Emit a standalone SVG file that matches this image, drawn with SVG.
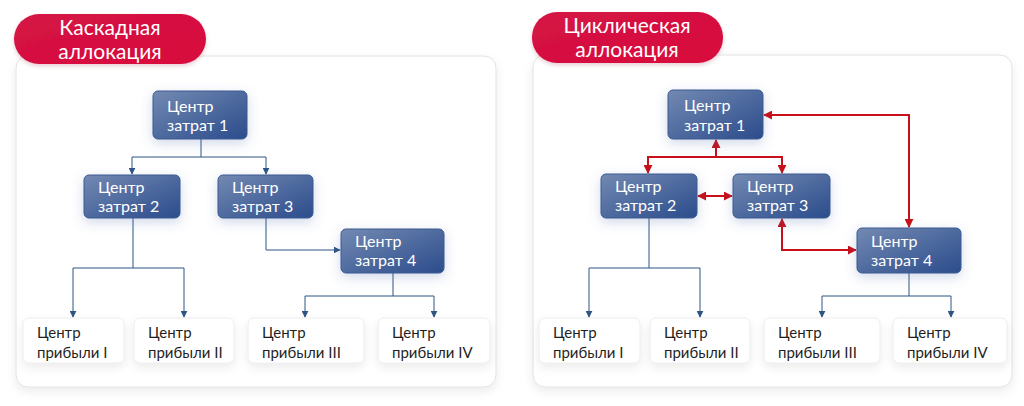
<svg xmlns="http://www.w3.org/2000/svg" width="1024" height="406" viewBox="0 0 1024 406">
<defs>
<linearGradient id="gNode" x1="0" y1="0" x2="1" y2="1">
<stop offset="0" stop-color="#7389b2"/>
<stop offset="1" stop-color="#2b4c8c"/>
</linearGradient>
<linearGradient id="gPill" x1="0" y1="0" x2="1" y2="1">
<stop offset="0" stop-color="#d41445"/>
<stop offset="1" stop-color="#d80c3c"/>
</linearGradient>
<filter id="fPanel" x="-10%" y="-10%" width="120%" height="125%">
<feDropShadow dx="0" dy="4" stdDeviation="5" flood-color="#000" flood-opacity="0.08"/>
</filter>
<filter id="fNode" x="-30%" y="-40%" width="160%" height="190%">
<feDropShadow dx="0" dy="4" stdDeviation="6" flood-color="#4a6aa8" flood-opacity="0.25"/>
</filter>
<filter id="fLeaf" x="-20%" y="-30%" width="140%" height="170%">
<feDropShadow dx="0" dy="4" stdDeviation="5" flood-color="#000" flood-opacity="0.08"/>
</filter>
<filter id="fPill" x="-10%" y="-20%" width="120%" height="150%">
<feDropShadow dx="0" dy="2" stdDeviation="2" flood-color="#800020" flood-opacity="0.2"/>
</filter>
<marker id="aBlue" viewBox="0 0 10 10" refX="9" refY="5" markerWidth="7" markerHeight="7" orient="auto-start-reverse" markerUnits="userSpaceOnUse">
<path d="M0,0 L10,5 L0,10 z" fill="#2c5585"/>
</marker>
<marker id="aRed" viewBox="0 0 10 10" refX="9" refY="5" markerWidth="9" markerHeight="9" orient="auto-start-reverse" markerUnits="userSpaceOnUse">
<path d="M0,0 L10,5 L0,10 z" fill="#c8101a"/>
</marker>
<style>
.panel{fill:#fff;stroke:#e2e2e2;stroke-width:1;filter:url(#fPanel)}
.pill{fill:url(#gPill);filter:url(#fPill)}
.pillt{font-family:Lato,"Liberation Sans",sans-serif;font-size:21px;fill:#fff;text-anchor:middle}
.node{fill:url(#gNode);stroke:#3b5a92;stroke-width:1;filter:url(#fNode)}
.nt{font-family:Lato,"Liberation Sans",sans-serif;font-size:16px;fill:#fff}
.leaf{fill:#fff;stroke:#ececec;stroke-width:1;filter:url(#fLeaf)}
.lt{font-family:Lato,"Liberation Sans",sans-serif;font-size:15px;fill:#1f1f1f}
.cb{fill:none;stroke:#2c5585;stroke-width:1}
.cr{fill:none;stroke:#c8101a;stroke-width:2}
</style>
</defs>
<rect width="1024" height="406" fill="#fff"/>

<g id="panel-left">
<rect class="panel" x="16" y="56" width="480" height="331" rx="12"/>
</g>
<g id="panel-right">
<rect class="panel" x="533" y="55" width="479" height="332" rx="12"/>
</g>

<g id="title-left">
<rect class="pill" x="14" y="14" width="192" height="50" rx="25"/>
<text class="pillt" x="110" y="35">Каскадная</text>
<text class="pillt" x="110" y="59">аллокация</text>
</g>
<g id="title-right">
<rect class="pill" x="532" y="12" width="191" height="51" rx="25"/>
<text class="pillt" x="627" y="33">Циклическая</text>
<text class="pillt" x="627" y="57">аллокация</text>
</g>

<g id="connectors">
<path class="cb" d="M201,139 V157"/>
<path class="cb" d="M201,157 H132 V174" marker-end="url(#aBlue)"/>
<path class="cb" d="M201,157 H266 V174" marker-end="url(#aBlue)"/>
<path class="cb" d="M133,218 V268"/>
<path class="cb" d="M133,268 H73 V317" marker-end="url(#aBlue)"/>
<path class="cb" d="M133,268 H184 V317" marker-end="url(#aBlue)"/>
<path class="cb" d="M266,218 V250 H340" marker-end="url(#aBlue)"/>
<path class="cb" d="M393,273 V296"/>
<path class="cb" d="M393,296 H305 V317" marker-end="url(#aBlue)"/>
<path class="cb" d="M393,296 H434 V317" marker-end="url(#aBlue)"/>
<path class="cb" d="M649,218 V268"/>
<path class="cb" d="M649,268 H589 V317" marker-end="url(#aBlue)"/>
<path class="cb" d="M649,268 H700 V317" marker-end="url(#aBlue)"/>
<path class="cb" d="M909,273 V296"/>
<path class="cb" d="M909,296 H822 V317" marker-end="url(#aBlue)"/>
<path class="cb" d="M909,296 H951 V317" marker-end="url(#aBlue)"/>
<path class="cr" d="M716,157 V140" marker-end="url(#aRed)"/>
<path class="cr" d="M716,157 H648 V173" marker-end="url(#aRed)"/>
<path class="cr" d="M716,157 H782 V173" marker-end="url(#aRed)"/>
<path class="cr" d="M698,196 H732" marker-start="url(#aRed)" marker-end="url(#aRed)"/>
<path class="cr" d="M782,219 V250 H856" marker-start="url(#aRed)" marker-end="url(#aRed)"/>
<path class="cr" d="M764,115 H909 V227" marker-start="url(#aRed)" marker-end="url(#aRed)"/>
</g>

<g id="L-cost1"><rect class="node" x="153" y="91" width="94" height="48" rx="5"/><text class="nt" x="167" y="112">Центр</text><text class="nt" x="167" y="131">затрат 1</text></g>
<g id="L-cost2"><rect class="node" x="84" y="175" width="96" height="43" rx="5"/><text class="nt" x="98" y="193">Центр</text><text class="nt" x="98" y="212">затрат 2</text></g>
<g id="L-cost3"><rect class="node" x="218" y="175" width="95" height="43" rx="5"/><text class="nt" x="232" y="193">Центр</text><text class="nt" x="232" y="212">затрат 3</text></g>
<g id="L-cost4"><rect class="node" x="341" y="229" width="103" height="44" rx="5"/><text class="nt" x="355" y="247">Центр</text><text class="nt" x="355" y="266">затрат 4</text></g>

<g id="L-profit1"><rect class="leaf" x="23" y="318" width="101" height="45" rx="6"/><text class="lt" x="37" y="338">Центр</text><text class="lt" x="37" y="358">прибыли I</text></g>
<g id="L-profit2"><rect class="leaf" x="134" y="318" width="100" height="45" rx="6"/><text class="lt" x="148" y="338">Центр</text><text class="lt" x="148" y="358">прибыли II</text></g>
<g id="L-profit3"><rect class="leaf" x="248" y="318" width="116" height="45" rx="6"/><text class="lt" x="262" y="338">Центр</text><text class="lt" x="262" y="358">прибыли III</text></g>
<g id="L-profit4"><rect class="leaf" x="378" y="318" width="112" height="45" rx="6"/><text class="lt" x="392" y="338">Центр</text><text class="lt" x="392" y="358">прибыли IV</text></g>

<g id="R-cost1"><rect class="node" x="668" y="90" width="95" height="49" rx="5"/><text class="nt" x="684" y="111">Центр</text><text class="nt" x="684" y="131">затрат 1</text></g>
<g id="R-cost2"><rect class="node" x="601" y="174" width="96" height="44" rx="5"/><text class="nt" x="615" y="192">Центр</text><text class="nt" x="615" y="211">затрат 2</text></g>
<g id="R-cost3"><rect class="node" x="733" y="174" width="97" height="44" rx="5"/><text class="nt" x="747" y="192">Центр</text><text class="nt" x="747" y="211">затрат 3</text></g>
<g id="R-cost4"><rect class="node" x="857" y="228" width="104" height="45" rx="5"/><text class="nt" x="871" y="247">Центр</text><text class="nt" x="871" y="266">затрат 4</text></g>

<g id="R-profit1"><rect class="leaf" x="539" y="318" width="101" height="45" rx="6"/><text class="lt" x="553" y="338">Центр</text><text class="lt" x="553" y="358">прибыли I</text></g>
<g id="R-profit2"><rect class="leaf" x="650" y="318" width="100" height="45" rx="6"/><text class="lt" x="664" y="338">Центр</text><text class="lt" x="664" y="358">прибыли II</text></g>
<g id="R-profit3"><rect class="leaf" x="764" y="318" width="116" height="45" rx="6"/><text class="lt" x="778" y="338">Центр</text><text class="lt" x="778" y="358">прибыли III</text></g>
<g id="R-profit4"><rect class="leaf" x="893" y="318" width="114" height="45" rx="6"/><text class="lt" x="907" y="338">Центр</text><text class="lt" x="907" y="358">прибыли IV</text></g>
</svg>
